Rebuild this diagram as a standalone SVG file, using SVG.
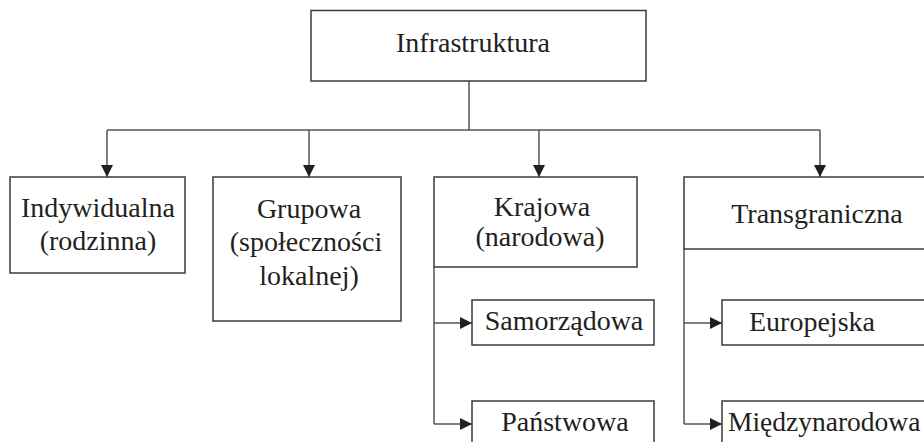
<svg xmlns="http://www.w3.org/2000/svg" width="924" height="442" viewBox="0 0 924 442">
  <defs>
    <style>
      .box { fill: #ffffff; stroke: #3a3a3a; stroke-width: 1.5; }
      .link { fill: none; stroke: #555555; stroke-width: 1.5; }
      .lbl { font-size: 28px; fill: #231f20; text-anchor: middle; }
    </style>
    <marker id="arrow" viewBox="0 0 12 12" refX="12" refY="6" markerWidth="12" markerHeight="12" markerUnits="userSpaceOnUse" orient="auto">
      <path d="M0,0 L12,6 L0,12 Z" fill="#231f20"/>
    </marker>
  </defs>
  <rect width="924" height="442" fill="#ffffff"/>

  <!-- connectors -->
  <g id="connectors">
    <path class="link" d="M469,81 V130"/>
    <path class="link" d="M107,130 H820"/>
    <path class="link" d="M107,130 V177" marker-end="url(#arrow)"/>
    <path class="link" d="M309,130 V177" marker-end="url(#arrow)"/>
    <path class="link" d="M539,130 V177" marker-end="url(#arrow)"/>
    <path class="link" d="M820,130 V177" marker-end="url(#arrow)"/>
    <path class="link" d="M434,267 V424"/>
    <path class="link" d="M434,323 H472" marker-end="url(#arrow)"/>
    <path class="link" d="M434,424 H472" marker-end="url(#arrow)"/>
    <path class="link" d="M684,249 V424"/>
    <path class="link" d="M684,323 H722" marker-end="url(#arrow)"/>
    <path class="link" d="M684,424 H722" marker-end="url(#arrow)"/>
  </g>

  <g font-family="'Liberation Serif', 'DejaVu Serif', serif">
    <g id="infrastruktura">
      <rect class="box" x="311" y="10.5" width="335" height="70.5"/>
      <text class="lbl" x="473" y="52">Infrastruktura</text>
    </g>

    <g id="indywidualna">
      <rect class="box" x="10" y="177" width="175" height="96"/>
      <text class="lbl" x="98" y="217">Indywidualna</text>
      <text class="lbl" x="98" y="250">(rodzinna)</text>
    </g>

    <g id="grupowa">
      <rect class="box" x="213" y="177" width="188" height="144"/>
      <text class="lbl" x="309" y="218">Grupowa</text>
      <text class="lbl" x="306" y="251">(społeczności</text>
      <text class="lbl" x="309" y="285">lokalnej)</text>
    </g>

    <g id="krajowa">
      <rect class="box" x="434" y="177" width="203" height="90"/>
      <text class="lbl" x="542" y="216">Krajowa</text>
      <text class="lbl" x="540" y="246">(narodowa)</text>
    </g>

    <g id="transgraniczna">
      <rect class="box" x="684" y="177" width="260" height="72"/>
      <text class="lbl" x="817" y="223">Transgraniczna</text>
    </g>

    <g id="samorzadowa">
      <rect class="box" x="472" y="300" width="182" height="45"/>
      <text class="lbl" x="564" y="330">Samorządowa</text>
    </g>

    <g id="panstwowa">
      <rect class="box" x="472" y="401" width="182" height="60"/>
      <text class="lbl" x="565" y="431">Państwowa</text>
    </g>

    <g id="europejska">
      <rect class="box" x="722" y="300" width="222" height="45"/>
      <text class="lbl" x="812" y="331">Europejska</text>
    </g>

    <g id="miedzynarodowa">
      <rect class="box" x="722" y="401" width="222" height="60"/>
      <text class="lbl" x="728" y="431" style="text-anchor:start; font-size:27.5px">Międzynarodowa</text>
    </g>
  </g>
</svg>
